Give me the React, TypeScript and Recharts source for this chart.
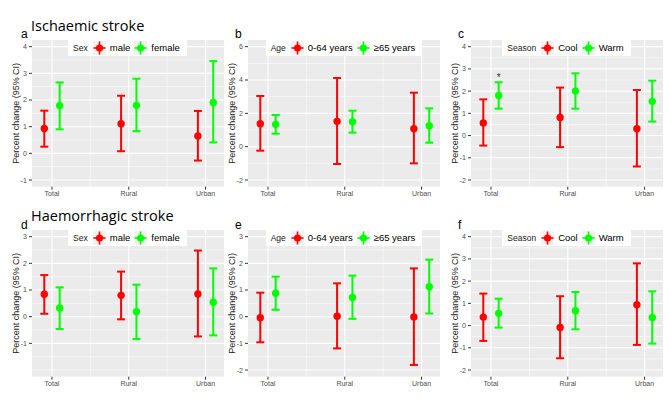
import React from 'react';
import {
  ScatterChart,
  Scatter,
  XAxis,
  YAxis,
  CartesianGrid,
  ErrorBar,
  Legend,
  ReferenceDot,
} from 'recharts';

// ---------- categories & tick values ----------
const categories = ['Total', 'Rural', 'Urban'];
const catIndex = [1, 2, 3];
const xDomain = [0.74, 3.24];
const xMinor = [1.5, 2.5];
const dodge = [-0.1, 0.1];

const sexGroups = ['male', 'female'];
const ageGroups = ['0-64 years', '≥65 years'];
const seasonGroups = ['Cool', 'Warm'];

// ---------- a: Ischaemic stroke, by sex ----------
const aMaleEst = [0.93, 1.11, 0.65];
const aMaleLo = [0.25, 0.08, -0.27];
const aMaleHi = [1.6, 2.16, 1.59];
const aFemaleEst = [1.79, 1.8, 1.91];
const aFemaleLo = [0.9, 0.83, 0.41];
const aFemaleHi = [2.66, 2.8, 3.46];

// ---------- b: Ischaemic stroke, by age ----------
const bYoungEst = [1.38, 1.52, 1.08];
const bYoungLo = [-0.24, -1.04, -1.0];
const bYoungHi = [3.04, 4.12, 3.24];
const bOldEst = [1.34, 1.5, 1.26];
const bOldLo = [0.78, 0.84, 0.24];
const bOldHi = [1.9, 2.16, 2.3];

// ---------- c: Ischaemic stroke, by season ----------
const cCoolEst = [0.57, 0.81, 0.31];
const cCoolLo = [-0.45, -0.52, -1.39];
const cCoolHi = [1.63, 2.16, 2.05];
const cWarmEst = [1.8, 2.0, 1.54];
const cWarmLo = [1.21, 1.21, 0.63];
const cWarmHi = [2.4, 2.8, 2.47];
const cWarmSignif = ['*', '', ''];

// ---------- d: Haemorrhagic stroke, by sex ----------
const dMaleEst = [0.84, 0.8, 0.85];
const dMaleLo = [0.11, -0.1, -0.74];
const dMaleHi = [1.56, 1.69, 2.48];
const dFemaleEst = [0.33, 0.19, 0.54];
const dFemaleLo = [-0.46, -0.84, -0.7];
const dFemaleHi = [1.1, 1.2, 1.81];

// ---------- e: Haemorrhagic stroke, by age ----------
const eYoungEst = [-0.04, 0.02, -0.01];
const eYoungLo = [-0.96, -1.19, -1.81];
const eYoungHi = [0.9, 1.25, 1.81];
const eOldEst = [0.88, 0.72, 1.12];
const eOldLo = [0.26, -0.08, 0.12];
const eOldHi = [1.5, 1.54, 2.14];

// ---------- f: Haemorrhagic stroke, by season ----------
const fCoolEst = [0.38, -0.09, 0.94];
const fCoolLo = [-0.69, -1.47, -0.87];
const fCoolHi = [1.44, 1.32, 2.8];
const fWarmEst = [0.55, 0.67, 0.36];
const fWarmLo = [-0.09, -0.17, -0.81];
const fWarmHi = [1.21, 1.51, 1.54];

// ---------- y axes ----------
const aYDomain = [-1.25, 4.25];
const aYTicks = [-1, 0, 1, 2, 3, 4];
const aYMinor = [-0.5, 0.5, 1.5, 2.5, 3.5];
const bYDomain = [-2.4, 6.4];
const bYTicks = [-2, 0, 2, 4, 6];
const bYMinor = [-1, 1, 3, 5];
const cYDomain = [-2.3, 4.3];
const cYTicks = [-2, -1, 0, 1, 2, 3, 4];
const cYMinor = [-1.5, -0.5, 0.5, 1.5, 2.5, 3.5];
const dYDomain = [-2.25, 3.25];
const dYTicks = [-1, 0, 1, 2, 3];
const dYMinor = [-2, -1.5, -0.5, 0.5, 1.5, 2.5];
const eYDomain = [-2.25, 3.25];
const eYTicks = [-2, -1, 0, 1, 2, 3];
const eYMinor = [-1.5, -0.5, 0.5, 1.5, 2.5];
const fYDomain = [-2.3, 4.3];
const fYTicks = [-2, -1, 0, 1, 2, 3, 4];
const fYMinor = [-1.5, -0.5, 0.5, 1.5, 2.5, 3.5];

const COLORS = ['#FF0000', '#00FF00'];
const FONT = '"Liberation Sans", Arial, sans-serif';
const Y_LABEL = 'Percent change (95% CI)';

const panels = [
  {
    letter: 'a', legendTitle: 'Sex', groups: sexGroups,
    est: [aMaleEst, aFemaleEst], lo: [aMaleLo, aFemaleLo], hi: [aMaleHi, aFemaleHi],
    yDomain: aYDomain, yTicks: aYTicks, yMinor: aYMinor, signif: null,
  },
  {
    letter: 'b', legendTitle: 'Age', groups: ageGroups,
    est: [bYoungEst, bOldEst], lo: [bYoungLo, bOldLo], hi: [bYoungHi, bOldHi],
    yDomain: bYDomain, yTicks: bYTicks, yMinor: bYMinor, signif: null,
  },
  {
    letter: 'c', legendTitle: 'Season', groups: seasonGroups,
    est: [cCoolEst, cWarmEst], lo: [cCoolLo, cWarmLo], hi: [cCoolHi, cWarmHi],
    yDomain: cYDomain, yTicks: cYTicks, yMinor: cYMinor, signif: [null, cWarmSignif],
  },
  {
    letter: 'd', legendTitle: 'Sex', groups: sexGroups,
    est: [dMaleEst, dFemaleEst], lo: [dMaleLo, dFemaleLo], hi: [dMaleHi, dFemaleHi],
    yDomain: dYDomain, yTicks: dYTicks, yMinor: dYMinor, signif: null,
  },
  {
    letter: 'e', legendTitle: 'Age', groups: ageGroups,
    est: [eYoungEst, eOldEst], lo: [eYoungLo, eOldLo], hi: [eYoungHi, eOldHi],
    yDomain: eYDomain, yTicks: eYTicks, yMinor: eYMinor, signif: null,
  },
  {
    letter: 'f', legendTitle: 'Season', groups: seasonGroups,
    est: [fCoolEst, fWarmEst], lo: [fCoolLo, fWarmLo], hi: [fCoolHi, fWarmHi],
    yDomain: fYDomain, yTicks: fYTicks, yMinor: fYMinor, signif: null,
  },
];

// layout
const COL_LEFT = [31.5, 248, 470.5];
const ROW_TOP = [40.3, 230.3];
const PW = 192;
const PH = 146.7;
const YW = 33;
const XH = 14;

const KeyGlyph = ({ color }: { color: string }) => (
  <svg width={13} height={14} style={{ display: 'block' }}>
    <rect x={0} y={0} width={13} height={14} fill="#F2F2F2" />
    <line x1={6.5} y1={0.5} x2={6.5} y2={13.5} stroke={color} strokeWidth={1.6} />
    <line x1={0.5} y1={7} x2={12.5} y2={7} stroke={color} strokeWidth={1.6} />
    <circle cx={6.5} cy={7} r={3.6} fill={color} />
  </svg>
);

const LegendBox = ({ title, payload, groups }: { title: string; payload: any[]; groups: string[] }) => {
  const items = [...(payload || [])].sort(
    (p: any, q: any) => groups.indexOf(p.value) - groups.indexOf(q.value)
  );
  return (
    <div style={{ display: 'flex', justifyContent: 'center', width: '100%' }}>
      <div
        style={{
          display: 'flex',
          alignItems: 'center',
          background: '#FFFFFF',
          height: 16,
          padding: '0 3px 0 5px',
          fontFamily: FONT,
          color: '#000',
          lineHeight: '16px',
        }}
      >
        <span style={{ fontSize: 8.5, marginRight: 5, color: '#1a1a1a' }}>{title}</span>
        {items.map((p: any, i: number) => (
          <React.Fragment key={i}>
            <KeyGlyph color={p.color} />
            <span style={{ fontSize: 9.5, margin: '0 4px 0 4px' }}>{p.value}</span>
          </React.Fragment>
        ))}
      </div>
    </div>
  );
};

function Panel({ cfg, left, top }: { cfg: any; left: number; top: number }) {
  const series = cfg.groups.map((name: string, k: number) => ({
    name,
    color: COLORS[k],
    data: categories.map((c, i) => ({
      cat: c,
      x: catIndex[i] + dodge[k],
      y: cfg.est[k][i],
      err: [cfg.est[k][i] - cfg.lo[k][i], cfg.hi[k][i] - cfg.est[k][i]],
    })),
  }));

  const marks: any[] = [];
  if (cfg.signif) {
    cfg.signif.forEach((arr: string[] | null, k: number) => {
      if (!arr) return;
      arr.forEach((s, i) => {
        if (s) marks.push({ x: catIndex[i] + dodge[k], y: cfg.hi[k][i], s });
      });
    });
  }

  return (
    <div style={{ position: 'absolute', left: left - YW, top }}>
      <ScatterChart
        width={YW + PW}
        height={PH + XH}
        margin={{ top: 0, right: 0, bottom: 0, left: 0 }}
      >
        <CartesianGrid
          fill="#EBEBEB"
          fillOpacity={1}
          stroke="#FFFFFF"
          strokeWidth={0.55}
          horizontalValues={cfg.yMinor}
          verticalValues={xMinor}
        />
        <CartesianGrid
          stroke="#FFFFFF"
          strokeWidth={1.1}
          horizontalValues={cfg.yTicks}
          verticalValues={catIndex}
        />
        <XAxis
          type="number"
          dataKey="x"
          domain={xDomain}
          allowDataOverflow
          ticks={catIndex}
          interval={0}
          tickFormatter={(v: number) => categories[Math.round(v) - 1]}
          axisLine={false}
          tickLine={{ stroke: '#333333' }}
          tickSize={3}
          tickMargin={1}
          height={XH}
          tick={{ fontSize: 7, fill: '#4D4D4D', fontFamily: FONT }}
        />
        <YAxis
          type="number"
          dataKey="y"
          domain={cfg.yDomain}
          allowDataOverflow
          ticks={cfg.yTicks}
          interval={0}
          axisLine={false}
          tickLine={{ stroke: '#333333' }}
          tickSize={3}
          tickMargin={2}
          width={YW}
          tick={{ fontSize: 7, fill: '#4D4D4D', fontFamily: FONT }}
          label={{
            value: Y_LABEL,
            angle: -90,
            position: 'center',
            dx: 0.5,
            style: { fontSize: 9, fill: '#1a1a1a', fontFamily: FONT },
          }}
        />
        <Legend
          layout="horizontal"
          align="center"
          verticalAlign="middle"
          wrapperStyle={{ left: YW, top: 0, width: PW, height: 16 }}
          content={(props: any) => (
            <LegendBox title={cfg.legendTitle} payload={props.payload} groups={cfg.groups} />
          )}
        />
        {series.map((s: any) => (
          <Scatter
            key={s.name}
            name={s.name}
            data={s.data}
            fill={s.color}
            isAnimationActive={false}
            shape={(p: any) => <circle cx={p.cx} cy={p.cy} r={3.7} fill={s.color} />}
          >
            <ErrorBar
              dataKey="err"
              direction="y"
              width={4}
              strokeWidth={2}
              stroke={s.color}
              isAnimationActive={false}
            />
          </Scatter>
        ))}
        {marks.map((m, i) => (
          <ReferenceDot
            key={i}
            x={m.x}
            y={m.y}
            r={0}
            fill="none"
            stroke="none"
            label={{ value: m.s, position: 'top', offset: 1, fontSize: 10, fill: '#333333', fontFamily: FONT }}
          />
        ))}
      </ScatterChart>
    </div>
  );
}

export default function App() {
  return (
    <div
      style={{
        position: 'absolute',
        left: 0,
        top: 0,
        width: 669,
        height: 402,
        background: '#FFFFFF',
        overflow: 'hidden',
        fontFamily: FONT,
      }}
    >
      {panels.map((cfg, idx) => (
        <Panel key={cfg.letter} cfg={cfg} left={COL_LEFT[idx % 3]} top={ROW_TOP[Math.floor(idx / 3)]} />
      ))}
      <svg
        width={669}
        height={402}
        style={{ position: 'absolute', left: 0, top: 0, pointerEvents: 'none' }}
      >
        <text x={31} y={30.7} fontSize={14.5} fontFamily='"Open Sans", sans-serif' fill="#000">
          Ischaemic stroke
        </text>
        <text x={31} y={221} fontSize={14.5} fontFamily='"Open Sans", sans-serif' fill="#000">
          Haemorrhagic stroke
        </text>
        {panels.map((cfg, idx) => (
          <text
            key={cfg.letter}
            x={[21, 235, 458][idx % 3]}
            y={[38, 229][Math.floor(idx / 3)]}
            fontSize={12}
            fontFamily={FONT}
            fill="#000"
          >
            {cfg.letter}
          </text>
        ))}
      </svg>
    </div>
  );
}
